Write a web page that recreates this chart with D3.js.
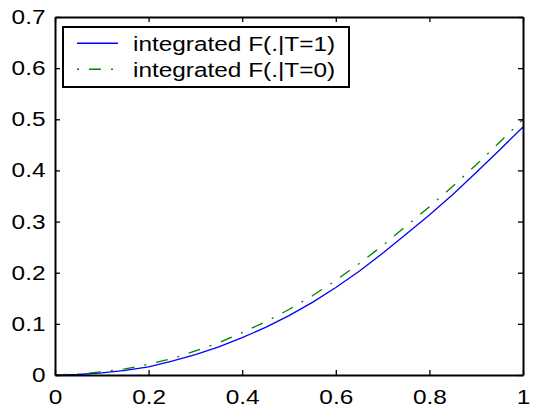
<!DOCTYPE html>
<html lang="en">
<head>
  <meta charset="UTF-8">
  <title></title>
  <style>
    html, body {
      margin: 0;
      overflow: hidden;
      width: 100%;
      height: 100%;
      background: white;
    }
    svg {
      position: absolute;
      top: 0;
      left: 0;
    }
    text {
      font-family: "Liberation Sans", Arial, sans-serif;
    }
  </style>
</head>
<body>
  <svg width="534" height="412"></svg>
</body>
<script src="https://d3js.org/d3.v7.min.js"></script>
<script type="text/javascript">
  // data
  const xs = [0, 0.05, 0.1, 0.15, 0.2, 0.25, 0.3, 0.35, 0.4, 0.45, 0.5,
              0.55, 0.6, 0.65, 0.7, 0.75, 0.8, 0.85, 0.9, 0.95, 1]
  const fT1 = [0, 0.001, 0.004, 0.009, 0.016, 0.027, 0.040, 0.055, 0.073, 0.093, 0.116,
               0.142, 0.171, 0.203, 0.238, 0.275, 0.313, 0.353, 0.396, 0.440, 0.485]
  const fT0 = [0, 0.002, 0.006, 0.012, 0.021, 0.032, 0.047, 0.063, 0.083, 0.104, 0.128,
               0.155, 0.185, 0.218, 0.253, 0.291, 0.329, 0.369, 0.411, 0.455, 0.500]
  const xTicks = [0, 0.2, 0.4, 0.6, 0.8, 1]
  const yTicks = [0, 0.1, 0.2, 0.3, 0.4, 0.5, 0.6, 0.7]
  const legendLabels = ['integrated F(.|T=1)', 'integrated F(.|T=0)']

  const svg = d3.select('svg')
  const box = {left: 55, right: 523, top: 17, bottom: 375}
  const stretch = 'scale(1.19,1)'
  const fontSize = 20.5

  const x = d3.scaleLinear().domain([0, 1]).range([box.left, box.right])
  const y = d3.scaleLinear().domain([0, 0.7]).range([box.bottom, box.top])

  // curves
  const line = d3.line()
    .x(d => x(d[0]))
    .y(d => y(d[1]))

  const series = [
    {vals: fT1, color: '#0000ff', dash: null},
    {vals: fT0, color: '#008000', dash: '12,10,2,10'}
  ]

  svg.selectAll('path.curve')
    .data(series)
    .enter()
    .append('path')
    .attr('class', 'curve')
    .attr('d', s => line(xs.map((v, i) => [v, s.vals[i]])))
    .attr('fill', 'none')
    .attr('stroke', s => s.color)
    .attr('stroke-width', 1.3)
    .attr('stroke-dasharray', s => s.dash)

  // axes, ticks pointing in on all four sides
  function styleAxis(g) {
    g.attr('font-family', null).attr('font-size', null)
    g.selectAll('path').attr('stroke', '#000').attr('stroke-width', 2)
    g.selectAll('line').attr('stroke', '#000').attr('stroke-width', 1.3)
    g.selectAll('text')
      .attr('fill', '#000')
      .style('font-size', fontSize + 'px')
      .attr('transform', stretch)
  }

  svg.append('g')
    .attr('transform', `translate(0,${box.bottom})`)
    .call(d3.axisBottom(x).tickValues(xTicks).tickSizeInner(-5).tickSizeOuter(0)
      .tickPadding(14).tickFormat(d3.format('')))
    .call(styleAxis)

  svg.append('g')
    .attr('transform', `translate(${box.left},0)`)
    .call(d3.axisLeft(y).tickValues(yTicks).tickSizeInner(-5).tickSizeOuter(0)
      .tickPadding(8).tickFormat(d3.format('')))
    .call(styleAxis)

  svg.append('g')
    .attr('transform', `translate(0,${box.top})`)
    .call(d3.axisTop(x).tickValues(xTicks).tickSizeInner(-5).tickSizeOuter(0).tickFormat(''))
    .call(styleAxis)

  svg.append('g')
    .attr('transform', `translate(${box.right},0)`)
    .call(d3.axisRight(y).tickValues(yTicks).tickSizeInner(-5).tickSizeOuter(0).tickFormat(''))
    .call(styleAxis)

  // legend
  const legend = svg.append('g')
  legend.append('rect')
    .attr('x', 63)
    .attr('y', 27)
    .attr('width', 286)
    .attr('height', 60)
    .attr('fill', 'white')
    .attr('stroke', '#000')
    .attr('stroke-width', 2)

  const rows = legend.selectAll('g.row')
    .data(series)
    .enter()
    .append('g')
    .attr('class', 'row')
    .attr('transform', (d, i) => `translate(0,${43.3 + i * 26})`)

  rows.append('line')
    .attr('x1', 77)
    .attr('x2', 118)
    .attr('stroke', d => d.color)
    .attr('stroke-width', 1.5)
    .attr('stroke-dasharray', d => d.dash)
    .attr('stroke-dashoffset', d => d.dash ? 22 : null)

  rows.append('text')
    .attr('transform', `translate(133,7.2) ${stretch}`)
    .style('font-size', fontSize + 'px')
    .text((d, i) => legendLabels[i])
</script>
</html>
